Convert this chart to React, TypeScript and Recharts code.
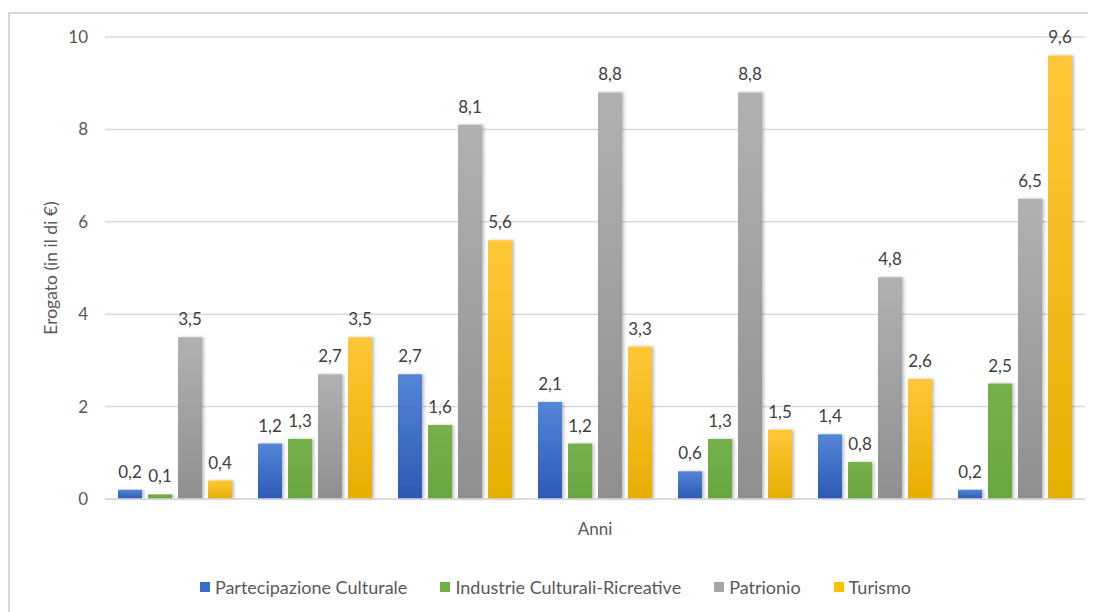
import React from "react"
import { BarChart, Bar, XAxis, YAxis, CartesianGrid, Legend, LabelList, Label } from "recharts"

// Anni (etichette non visibili nel grafico)
const categories = ["1", "2", "3", "4", "5", "6", "7"]

// Erogato in miliardi di €
const partecipazione = [0.2, 1.2, 2.7, 2.1, 0.6, 1.4, 0.2]
const industrie = [0.1, 1.3, 1.6, 1.2, 1.3, 0.8, 2.5]
const patrionio = [3.5, 2.7, 8.1, 8.8, 8.8, 4.8, 6.5]
const turismo = [0.4, 3.5, 5.6, 3.3, 1.5, 2.6, 9.6]

const yTicks = [0, 2, 4, 6, 8, 10]

const SERIES = [
  { key: "partecipazione", name: "Partecipazione Culturale", fill: "url(#gBlue)", swatch: "#3a6cc8" },
  { key: "industrie", name: "Industrie Culturali-Ricreative", fill: "url(#gGreen)", swatch: "#70ad47" },
  { key: "patrionio", name: "Patrionio", fill: "url(#gGray)", swatch: "#a5a5a5" },
  { key: "turismo", name: "Turismo", fill: "url(#gYellow)", swatch: "#ffc000" },
]

const FONT = "Lato, 'Open Sans', sans-serif"

const data = categories.map((c, i) => ({
  anno: c,
  partecipazione: partecipazione[i],
  industrie: industrie[i],
  patrionio: patrionio[i],
  turismo: turismo[i],
}))

// bar with a soft shadow on the right, like the Excel original
const ShadowBar = (props: any) => {
  const { x, y, width, height, fill } = props
  if (!height || height <= 0) return null
  return <rect x={x} y={y} width={width} height={height} fill={fill} filter="url(#barShadow)" />
}

const LegendContent = () => (
  <div
    style={{
      height: 50,
      display: "flex",
      alignItems: "center",
      justifyContent: "center",
      gap: 33,
      paddingLeft: 18,
      fontFamily: FONT,
      fontSize: 18,
      color: "#595959",
    }}
  >
    {SERIES.map((s) => (
      <div key={s.key} style={{ display: "flex", alignItems: "center" }}>
        <span style={{ width: 10, height: 10, background: s.swatch, display: "inline-block", marginRight: 5 }} />
        <span>{s.name}</span>
      </div>
    ))}
  </div>
)

export default function App() {
  return (
    <div style={{ position: "relative", width: 1088, height: 604, overflow: "hidden", background: "#fff" }}>
      <div
        style={{
          position: "absolute",
          left: 0,
          top: 4,
          width: 1200,
          height: 800,
          border: "2px solid #d9d9d9",
          boxSizing: "border-box",
        }}
      />
      <div style={{ position: "absolute", left: 0, top: 0 }}>
        <BarChart
          width={1088}
          height={604}
          data={data}
          margin={{ top: 29, right: 11, left: 0, bottom: 0 }}
          barSize={24}
          barGap={6}
        >
          <defs>
            <linearGradient id="gBlue" x1="0" y1="0" x2="0" y2="1">
              <stop offset="0%" stopColor="#5585d8" />
              <stop offset="100%" stopColor="#2b59b5" />
            </linearGradient>
            <linearGradient id="gGreen" x1="0" y1="0" x2="0" y2="1">
              <stop offset="0%" stopColor="#75b14b" />
              <stop offset="100%" stopColor="#68a640" />
            </linearGradient>
            <linearGradient id="gGray" x1="0" y1="0" x2="0" y2="1">
              <stop offset="0%" stopColor="#b1b1b1" />
              <stop offset="100%" stopColor="#8f8f8f" />
            </linearGradient>
            <linearGradient id="gYellow" x1="0" y1="0" x2="0" y2="1">
              <stop offset="0%" stopColor="#ffc738" />
              <stop offset="100%" stopColor="#e6ae00" />
            </linearGradient>
            <filter id="barShadow" x="-20%" y="-5%" width="150%" height="110%">
              <feDropShadow dx="2" dy="0" stdDeviation="1.5" floodColor="#000" floodOpacity="0.25" />
            </filter>
          </defs>
          <CartesianGrid vertical={false} stroke="#d9d9d9" strokeWidth={1.5} />
          <XAxis
            dataKey="anno"
            tick={false}
            tickLine={false}
            axisLine={{ stroke: "#d9d9d9", strokeWidth: 1.5 }}
            height={63}
          >
            <Label
              value="Anni"
              position="insideTop"
              offset={24}
              style={{ fontFamily: FONT, fontSize: 17, fill: "#595959" }}
            />
          </XAxis>
          <YAxis
            width={97}
            domain={[0, 10]}
            ticks={yTicks}
            tickLine={false}
            axisLine={false}
            tickSize={0}
            tickMargin={17}
            tick={{ fontFamily: FONT, fontSize: 17, fill: "#595959" }}
          >
            <Label
              value="Erogato (in il di €)"
              angle={-90}
              position="center"
              dx={-6}
              style={{ fontFamily: FONT, fontSize: 17.5, fill: "#595959", textAnchor: "middle" }}
            />
          </YAxis>
          <Legend verticalAlign="bottom" height={50} content={<LegendContent />} />
          {SERIES.map((s) => (
            <Bar key={s.key} dataKey={s.key} name={s.name} fill={s.fill} shape={ShadowBar} isAnimationActive={false}>
              <LabelList
                dataKey={s.key}
                position="top"
                offset={12}
                formatter={(v: any) => String(v).replace(".", ",")}
                style={{ fontFamily: FONT, fontSize: 17, fill: "#404040" }}
              />
            </Bar>
          ))}
        </BarChart>
      </div>
    </div>
  )
}
